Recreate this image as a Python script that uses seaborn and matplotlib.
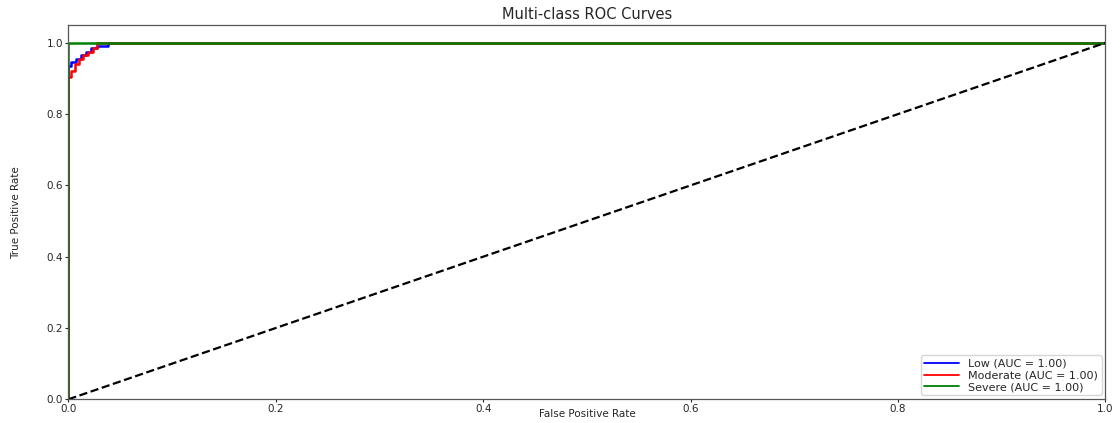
import matplotlib
matplotlib.use("Agg")
import matplotlib.pyplot as plt
import seaborn as sns
import pandas as pd

sns.set_style("white")
plt.rcParams['font.family'] = ['DejaVu Sans']

classes = ["Low", "Moderate", "Severe"]
aucs = [1.00, 1.00, 1.00]
colors = ["blue", "red", "green"]

low_fpr = [0.0, 0.0, 0.003, 0.003, 0.007, 0.007, 0.012, 0.012, 0.017, 0.017, 0.022, 0.022, 0.028, 0.028, 0.038, 0.038, 1.0]
low_tpr = [0.0, 0.935, 0.935, 0.945, 0.945, 0.955, 0.955, 0.965, 0.965, 0.975, 0.975, 0.985, 0.985, 0.99, 0.99, 1.0, 1.0]
mod_fpr = [0.0, 0.0, 0.003, 0.003, 0.006, 0.006, 0.010, 0.010, 0.014, 0.014, 0.019, 0.019, 0.024, 0.024, 0.028, 0.028, 1.0]
mod_tpr = [0.0, 0.905, 0.905, 0.92, 0.92, 0.94, 0.94, 0.955, 0.955, 0.965, 0.965, 0.975, 0.975, 0.985, 0.985, 1.0, 1.0]
sev_fpr = [0.0, 0.0, 1.0]
sev_tpr = [0.0, 1.0, 1.0]

curves = [(low_fpr, low_tpr), (mod_fpr, mod_tpr), (sev_fpr, sev_tpr)]

fig = plt.figure(figsize=(11.2, 4.23), dpi=100)
ax = fig.add_axes([0.061, 0.056, 0.926, 0.885])

for name, auc, col, (f, t) in zip(classes, aucs, colors, curves):
    df = pd.DataFrame({"fpr": f, "tpr": t})
    sns.lineplot(data=df, x="fpr", y="tpr", ax=ax, color=col, lw=1.8,
                 estimator=None, sort=False,
                 label=f"{name} (AUC = {auc:.2f})")

ax.plot([0, 1], [0, 1], "k--", lw=1.6)
ax.set_xlim(0.0, 1.0)
ax.set_ylim(0.0, 1.05)
ax.set_xlabel("False Positive Rate", fontsize=7.5)
ax.xaxis.set_label_coords(0.5, -0.026)
ax.set_ylabel("True Positive Rate", fontsize=7.5)
ax.yaxis.set_label_coords(-0.046, 0.5)
ax.set_title("Multi-class ROC Curves", fontsize=10.5, pad=4)
ax.tick_params(axis="both", labelsize=7.5, length=2.5, width=0.8, bottom=True, left=True, pad=1.2)
for s in ax.spines.values():
    s.set_color("#555555")
    s.set_linewidth(0.9)
leg = ax.legend(loc="lower right", fontsize=8, borderaxespad=0.35, handlelength=3.2,
                labelspacing=0.15, borderpad=0.3)
for h in leg.get_lines():
    h.set_linewidth(1.3)

fig.savefig("out.png", dpi=100)
